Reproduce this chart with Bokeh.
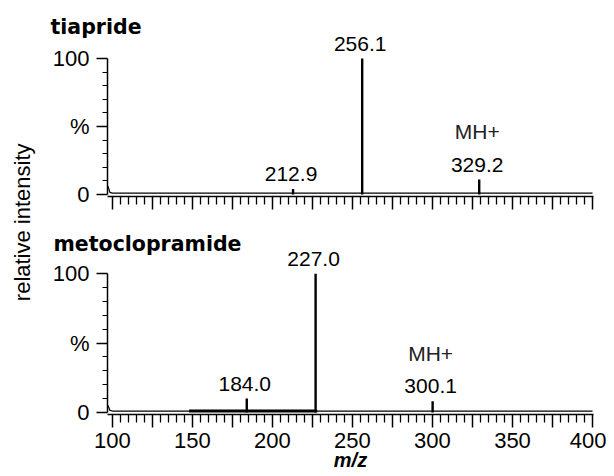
import math
from bokeh.plotting import figure
from bokeh.models import Range1d, FixedTicker, Title, Label, ColumnDataSource
from bokeh.layouts import row, column
from bokeh.core.properties import value
from bokeh.embed import file_html
from bokeh.resources import INLINE

# ---------------- data ----------------
tia_name = "tiapride"
tia_mz = [212.9, 256.1, 329.2]
tia_int = [4, 100, 11]
tia_mh = 329.2
tia_base_mz = [97.3, 98.5, 100.0, 400.0]
tia_base_int = [6, 1.5, 1, 1]

meto_name = "metoclopramide"
meto_mz = [184.0, 227.0, 300.1]
meto_int = [10, 100, 8]
meto_mh = 300.1
meto_base_mz = [97.3, 98.5, 100.0, 400.0]
meto_base_int = [5, 1.5, 1, 1]
meto_noise_mz = [148.0, 228.0]
meto_noise_int = [1, 1]

x_major = list(range(100, 401, 25))
x_minor = [v for v in range(100, 401, 5) if v % 25]
x_labels = {v: (str(v) if v % 50 == 0 else "") for v in x_major}
y_major = [0, 50, 100]
y_minor = [10, 20, 30, 40, 60, 70, 80, 90]
y_labels = {0: "0", 50: "%", 100: "100"}

FONT = "Liberation Sans"


def panel(name, mz, inten, mh, base_mz, base_int, height, top, bottom, ymax,
          title_off, title_standoff, show_x_labels):
    p = figure(width=568, height=height, output_backend="svg", toolbar_location=None,
               x_range=Range1d(97, 400.6), y_range=Range1d(-1.5, ymax),
               min_border_left=69, min_border_right=13, min_border_top=top,
               min_border_bottom=bottom)
    p.outline_line_color = None
    p.xgrid.visible = False
    p.ygrid.visible = False
    p.title = Title(text=name, align="left", offset=title_off, standoff=title_standoff,
                    text_font="DejaVu Sans", text_font_size="20.5px",
                    text_font_style="bold", text_color="black")

    # baseline trace
    p.line(base_mz, base_int, line_color="black", line_width=1.2)
    # peaks
    src = ColumnDataSource(dict(mz=mz, inten=inten, lbl=["%.1f" % m for m in mz]))
    p.segment(x0="mz", y0=0, x1="mz", y1="inten", source=src,
              line_color="black", line_width=2.4)
    p.text(x="mz", y="inten", text="lbl", source=src,
           text_font=value(FONT), text_font_size=value("21px"),
           text_align="center", text_baseline="alphabetic",
           x_offset=-2, y_offset=-15, text_color="black")
    mh_int = inten[mz.index(mh)]
    p.text(x=[mh], y=[mh_int], text=["MH+"],
           text_font=value(FONT), text_font_size=value("21px"),
           text_align="center", text_baseline="alphabetic",
           x_offset=-2, y_offset=-48, text_color="#222222")

    xa = p.xaxis[0]
    xa.ticker = FixedTicker(ticks=x_major, minor_ticks=x_minor)
    xa.axis_line_width = 1.5
    xa.major_tick_line_width = 1.5
    xa.minor_tick_line_width = 1.3
    xa.major_tick_in = 0
    xa.minor_tick_in = 0
    xa.major_tick_out = 13
    xa.minor_tick_out = 8
    if show_x_labels:
        xa.major_label_overrides = x_labels
        xa.major_label_text_font = FONT
        xa.major_label_text_font_size = "22px"
        xa.major_label_text_color = "black"
        xa.major_label_standoff = 5
        xa.axis_label = "m/z"
        xa.axis_label_text_font = FONT
        xa.axis_label_text_font_size = "20px"
        xa.axis_label_text_font_style = "bold italic"
        xa.axis_label_text_color = "black"
        xa.axis_label_standoff = -2
    else:
        xa.major_label_overrides = {v: "" for v in x_major}
        xa.major_label_text_font_size = "1px"
        xa.major_label_standoff = 0

    ya = p.yaxis[0]
    ya.ticker = FixedTicker(ticks=y_major, minor_ticks=y_minor)
    ya.bounds = (0, 100)
    ya.major_label_overrides = y_labels
    ya.major_label_text_font = FONT
    ya.major_label_text_font_size = "22px"
    ya.major_label_text_color = "black"
    ya.major_label_standoff = 7
    ya.axis_line_width = 1.5
    ya.major_tick_line_width = 1.5
    ya.major_tick_in = 0
    ya.minor_tick_in = 0
    ya.major_tick_out = 11
    ya.minor_tick_out = 5
    return p


p1 = panel(tia_name, tia_mz, tia_int, tia_mh, tia_base_mz, tia_base_int,
           222, 30, 26, 120.6, -57, -16, False)
p2 = panel(meto_name, meto_mz, meto_int, meto_mh, meto_base_mz, meto_base_int,
           254, 22, 62, 121.0, -54, -22, True)
p2.line(meto_noise_mz, meto_noise_int, line_color="black", line_width=3)

lab = figure(width=38, height=476, output_backend="svg", toolbar_location=None,
             x_range=Range1d(0, 1), y_range=Range1d(0, 1),
             min_border_left=0, min_border_right=0, min_border_top=0, min_border_bottom=0)
lab.axis.visible = False
lab.xgrid.visible = False
lab.ygrid.visible = False
lab.outline_line_color = None
lab.add_layout(Label(x=0.58, y=0.534, text="relative intensity", angle=math.pi / 2,
                     text_align="center", text_baseline="middle",
                     text_font=FONT, text_font_size="22px", text_color="black"))

layout = row(lab, column(p1, p2))
open("out.html", "w").write(file_html(layout, INLINE))
